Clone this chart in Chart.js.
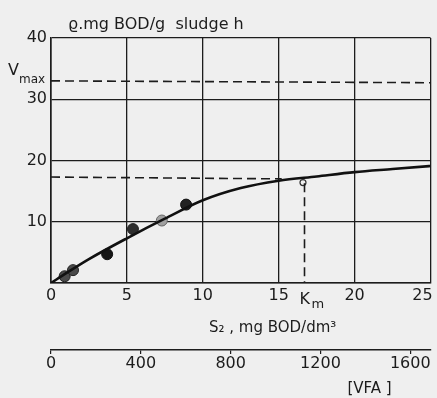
<!DOCTYPE html>
<html><head><meta charset="utf-8">
<script src="https://cdn.jsdelivr.net/npm/chart.js@4.4.1/dist/chart.umd.min.js"></script>
<style>html,body{margin:0;padding:0;background:#efefef;}#wrap{width:437px;height:398px;}</style>
</head><body><div id="wrap"><canvas id="c" width="437" height="398"></canvas></div>
<script>
// ---- texts ----
const titleText = "ϱ.mg BOD/g  sludge h";
const xTitleText = "S₂ , mg BOD/dm³";
const vfaText = "[VFA ]";
const vmaxMain = "V", vmaxSub = "max";
const kmMain = "K", kmSub = "m";

// ---- axes ----
const xMin = 0, xMax = 25, xStep = 5;
const yMin = 0, yMax = 40, yStep = 10;
const vfaMin = 0, vfaMax = 1690;
const vfaTicks = [0, 400, 800, 1200, 1600];

// ---- data ----
const curveS = [0, 1, 2.5, 5, 7.5, 10, 12.5, 15, 17.5, 20, 22.5, 25];
const curveV = [0, 1.6, 3.9, 7.3, 10.5, 13.5, 15.5, 16.7, 17.4, 18.1, 18.6, 19.1];
const pointS = [0.9, 1.45, 3.7, 5.4, 7.3, 8.9];
const pointV = [1.1, 2.1, 4.7, 8.8, 10.2, 12.8];
const vmaxS = [0, 25];
const vmaxV = [33.0, 32.7];
const kmHorizS = [0, 15.2];
const kmHorizV = [17.3, 17.0];
const kmS = 16.7;
const kmVertS = [16.7, 16.7];
const kmVertV = [16.3, 0];
const markS = [16.6];
const markV = [16.4];

const ink = '#1c1c1c';
const FONT = '"DejaVu Sans", "Liberation Sans", sans-serif';

const pts = (xs, ys) => xs.map((v, i) => ({x: v, y: ys[i]}));

const textPlugin = {
  id: 'texts',
  beforeDraw(chart) {
    const ctx = chart.ctx;
    ctx.save();
    ctx.fillStyle = '#efefef';
    ctx.fillRect(0, 0, chart.width, chart.height);
    ctx.restore();
  },
  afterDraw(chart) {
    const ctx = chart.ctx;
    const x = chart.scales.x, y = chart.scales.y, x2 = chart.scales.x2;
    ctx.save();
    ctx.fillStyle = ink;
    ctx.textBaseline = 'alphabetic';
    ctx.textAlign = 'left';
    ctx.font = '16px ' + FONT;
    ctx.fillText(titleText, x.left + 17, 29);
    // Vmax label
    const vy = y.getPixelForValue(vmaxV[0]);
    ctx.font = '16px ' + FONT;
    ctx.fillText(vmaxMain, 8, vy - 6);
    ctx.font = '12px ' + FONT;
    ctx.fillText(vmaxSub, 19, vy + 2);
    // Km label
    const kx = x.getPixelForValue(kmS);
    ctx.font = '16px ' + FONT;
    ctx.fillText(kmMain, kx - 5, x.top + 21);
    ctx.font = '13px ' + FONT;
    ctx.fillText(kmSub, kx + 7, x.top + 25);
    // x title
    ctx.font = '15px ' + FONT;
    ctx.textAlign = 'center';
    ctx.fillText(xTitleText, x.getPixelForValue(14.6), x.top + 49);
    // VFA label
    ctx.textAlign = 'left';
    ctx.fillText(vfaText, x2.getPixelForValue(1320), x2.top + 43);
    ctx.restore();
  }
};

new Chart(document.getElementById('c'), {
  type: 'scatter',
  data: {
    datasets: [
      {data: pts(vmaxS, vmaxV), showLine: true, borderColor: ink, borderWidth: 1.6, borderDash: [9, 5], pointRadius: 0},
      {data: pts(kmHorizS, kmHorizV), showLine: true, borderColor: ink, borderWidth: 1.6, borderDash: [9, 5], pointRadius: 0},
      {data: pts(kmVertS, kmVertV), showLine: true, borderColor: ink, borderWidth: 1.6, borderDash: [9, 5], pointRadius: 0},
      {data: pts(curveS, curveV), showLine: true, borderColor: '#111', borderWidth: 2.6, cubicInterpolationMode: 'monotone', pointRadius: 0},
      {data: pts(markS, markV), pointRadius: 3, backgroundColor: '#efefef', borderColor: '#333', borderWidth: 1.2},
      {data: pts(pointS, pointV), pointRadius: 5.5,
       backgroundColor: ['#4a4a4a', '#4a4a4a', '#151515', '#2e2e2e', '#a0a0a0', '#222'],
       borderColor: ['#222', '#222', '#111', '#222', '#666', '#111'], borderWidth: 1}
    ]
  },
  options: {
    responsive: false,
    animation: false,
    devicePixelRatio: 1,
    layout: {padding: {top: 38, right: 5, left: 0, bottom: 0}},
    plugins: {legend: {display: false}, tooltip: {enabled: false}},
    scales: {
      x: {
        type: 'linear', position: 'bottom', min: xMin, max: xMax,
        grid: {color: ink, lineWidth: 1.3, drawTicks: false},
        border: {color: ink, width: 1.6},
        ticks: {stepSize: xStep, color: ink, padding: 3, font: {family: FONT, size: 16},
          callback: (v) => v === xMax ? v + '\u2003' : String(v)},
        afterFit(s) { s.height = 67; s.paddingLeft = 0; s.paddingRight = 0; }
      },
      x2: {
        type: 'linear', position: 'bottom', min: vfaMin, max: vfaMax,
        grid: {drawOnChartArea: false, drawTicks: true, tickLength: 4, color: ink, lineWidth: 1.2},
        border: {color: ink, width: 1.4},
        ticks: {color: ink, padding: 0, font: {family: FONT, size: 16}, callback: (v) => String(v)},
        afterBuildTicks(s) { s.ticks = vfaTicks.map(v => ({value: v})); },
        afterFit(s) { s.height = 48; s.paddingLeft = 0; s.paddingRight = 0; }
      },
      y: {
        type: 'linear', position: 'left', min: yMin, max: yMax,
        grid: {color: ink, lineWidth: 1.3, drawTicks: false},
        border: {color: ink, width: 1.6},
        ticks: {stepSize: yStep, color: ink, padding: 4, font: {family: FONT, size: 16},
          callback: (v) => (v === 0 ? '' : String(v))},
        afterFit(s) { s.width = 51; s.paddingTop = 0; s.paddingBottom = 0; }
      }
    }
  },
  plugins: [textPlugin]
});
</script>
</body></html>
